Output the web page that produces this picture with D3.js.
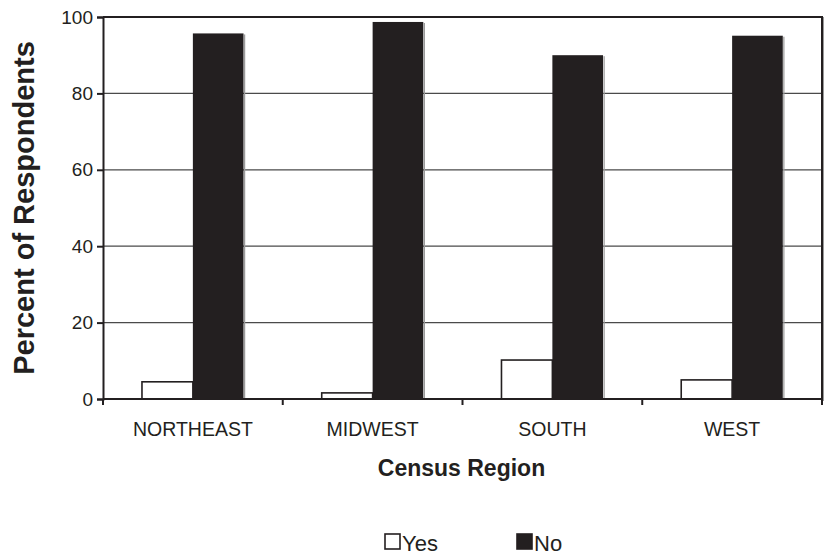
<!DOCTYPE html>
<html>
<head>
<meta charset="utf-8">
<script src="https://cdn.jsdelivr.net/npm/d3@7"></script>
<style>
  body { margin: 0; background: #fff; }
  text { font-family: "Liberation Sans", Arial, sans-serif; fill: #231f20; }
</style>
</head>
<body>
<div id="chart"></div>
<script>
const regions = ["NORTHEAST", "MIDWEST", "SOUTH", "WEST"];
const seriesNames = ["Yes", "No"];
const yesValues = [4.5, 1.6, 10.2, 5.0];
const noValues = [95.7, 98.7, 90.0, 95.1];
const yTicks = [0, 20, 40, 60, 80, 100];

const ink = "#231f20";
const W = 825, H = 559;
const margin = {top: 17, right: 3, bottom: 160, left: 103};
const width = W - margin.left - margin.right,
      height = H - margin.top - margin.bottom;

const rows = regions.map((r, i) => ({region: r, Yes: yesValues[i], No: noValues[i]}));

const x = d3.scaleBand().domain(regions).range([0, width]).paddingInner(0).paddingOuter(0);
const xInner = d3.scaleBand().domain(seriesNames).range([0, x.bandwidth()]).paddingOuter(0.74).paddingInner(0);
const y = d3.scaleLinear().domain([0, 100]).range([height, 0]);

const svg = d3.select("#chart").append("svg")
    .attr("width", W)
    .attr("height", H);

const g = svg.append("g").attr("transform", `translate(${margin.left},${margin.top})`);

// gridlines
g.append("g")
    .selectAll("line")
    .data(yTicks.filter(d => d > 0 && d < 100))
    .enter().append("line")
    .attr("x1", 0).attr("x2", width)
    .attr("y1", d => y(d)).attr("y2", d => y(d))
    .attr("stroke", "#4a4a4a")
    .attr("stroke-width", 1.3);

// frame top and right
g.append("line")
    .attr("x1", 0).attr("x2", width)
    .attr("y1", y(100)).attr("y2", y(100))
    .attr("stroke", ink).attr("stroke-width", 2);
g.append("line")
    .attr("x1", width + 1.5).attr("x2", width + 1.5)
    .attr("y1", y(100)).attr("y2", y(0) + 2)
    .attr("stroke", "#9a9a9a").attr("stroke-width", 1);
g.append("line")
    .attr("x1", width).attr("x2", width)
    .attr("y1", y(100) - 1).attr("y2", y(0))
    .attr("stroke", ink).attr("stroke-width", 2);

// bars
const groups = g.append("g")
    .selectAll("g")
    .data(rows)
    .enter().append("g")
    .attr("transform", d => `translate(${x(d.region)},0)`);

groups.append("rect")
    .attr("x", xInner("No") + xInner.bandwidth() - 0.5)
    .attr("y", d => y(d.No) + 1)
    .attr("width", 1.2)
    .attr("height", d => y(0) - y(d.No) - 1)
    .attr("fill", "#9a9a9a");

groups.append("rect")
    .attr("x", xInner("No"))
    .attr("y", d => y(d.No))
    .attr("width", xInner.bandwidth() - 1)
    .attr("height", d => y(0) - y(d.No))
    .attr("fill", ink);

groups.append("rect")
    .attr("x", xInner("Yes") + 0.75)
    .attr("y", d => y(d.Yes))
    .attr("width", xInner.bandwidth() - 0.75)
    .attr("height", d => y(0) - y(d.Yes))
    .attr("fill", "#fff")
    .attr("stroke", ink)
    .attr("stroke-width", 1.6);

// y axis
const yAxis = g.append("g")
    .call(d3.axisLeft(y).tickValues(yTicks).tickSize(6).tickPadding(4));
yAxis.select(".domain").attr("stroke", ink).attr("stroke-width", 2);
yAxis.selectAll(".tick line").attr("stroke", ink).attr("stroke-width", 2);
yAxis.selectAll(".tick text")
    .style("font-family", "'Liberation Sans', Arial, sans-serif")
    .style("font-size", "19px")
    .attr("fill", ink);

// x axis: baseline with ticks at category boundaries
const xAxis = g.append("g").attr("transform", `translate(0,${height})`);
xAxis.append("line")
    .attr("x1", 0).attr("x2", width)
    .attr("stroke", ink).attr("stroke-width", 2);
xAxis.selectAll(".bound")
    .data(regions.map(r => x(r)).concat([x.range()[1]]))
    .enter().append("line")
    .attr("class", "bound")
    .attr("x1", d => d).attr("x2", d => d)
    .attr("y1", 0).attr("y2", 6)
    .attr("stroke", ink).attr("stroke-width", 2);
xAxis.selectAll(".cat")
    .data(regions)
    .enter().append("text")
    .attr("class", "cat")
    .attr("x", d => x(d) + x.bandwidth() / 2)
    .attr("y", 37)
    .attr("text-anchor", "middle")
    .style("font-size", "19.5px")
    .text(d => d);

// axis titles
svg.append("text")
    .attr("x", margin.left + width / 2 - 1)
    .attr("y", 476)
    .attr("text-anchor", "middle")
    .style("font-size", "23px")
    .style("font-weight", "bold")
    .text("Census Region");

svg.append("text")
    .attr("transform", `translate(34,208) rotate(-90)`)
    .attr("text-anchor", "middle")
    .style("font-size", "29px")
    .style("font-weight", "bold")
    .text("Percent of Respondents");

// legend
const legend = svg.append("g").attr("transform", "translate(384,533)");
const legendX = d3.scaleOrdinal().domain(seriesNames).range([0, 132]);
const items = legend.selectAll("g")
    .data(seriesNames)
    .enter().append("g")
    .attr("transform", d => `translate(${legendX(d)},0)`);
items.append("rect")
    .attr("x", 1).attr("y", 1)
    .attr("width", 15).attr("height", 15)
    .attr("fill", d => d === "No" ? ink : "#fff")
    .attr("stroke", ink)
    .attr("stroke-width", 1.6);
items.append("text")
    .attr("x", 18)
    .attr("y", 18)
    .style("font-size", "22px")
    .text(d => d);
</script>
</body>
</html>
